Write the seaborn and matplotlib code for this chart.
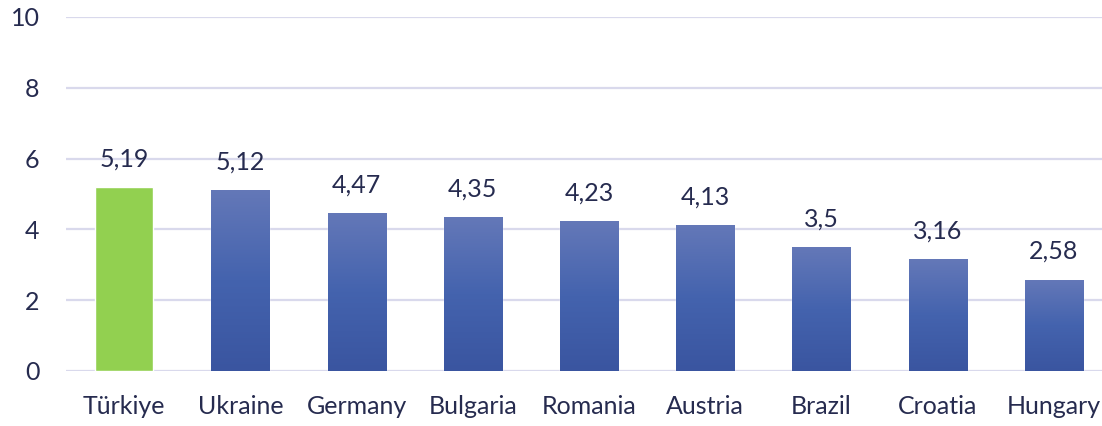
import matplotlib
matplotlib.use("Agg")
import matplotlib.pyplot as plt
import seaborn as sns
import numpy as np
from matplotlib.colors import LinearSegmentedColormap

countries = ["Türkiye", "Ukraine", "Germany", "Bulgaria", "Romania",
             "Austria", "Brazil", "Croatia", "Hungary"]
values = [5.19, 5.12, 4.47, 4.35, 4.23, 4.13, 3.5, 3.16, 2.58]
value_labels = ["5,19", "5,12", "4,47", "4,35", "4,23", "4,13", "3,5", "3,16", "2,58"]
highlight = "Türkiye"

text_color = "#262B4F"
grid_color = "#D9D9EC"

sns.set_style("white")
plt.rcParams['font.family'] = ['Lato', 'DejaVu Sans']

fig = plt.figure(figsize=(11.02, 4.26), dpi=100)
# axes in pixels: left 66, right 1112 (clipped by figure), bottom y=371, top y=17
W, H = 1102, 426
ax = fig.add_axes([66 / W, (H - 371) / H, (1112 - 66) / W, (371 - 17) / H])

palette = ["#92D050" if c == highlight else "#4463AE" for c in countries]
sns.barplot(x=countries, y=values, hue=countries, palette=palette,
            width=0.5, saturation=1, legend=False, ax=ax, zorder=3)

# vertical gradient on the blue bars
blue_grad = LinearSegmentedColormap.from_list("bg", ["#3A55A0", "#4463AE", "#6478B8"])
grad = np.linspace(0, 1, 256).reshape(-1, 1)
for patch, c in zip(ax.patches, countries):
    if c == highlight:
        continue
    x0, y0 = patch.get_x(), patch.get_y()
    w, h = patch.get_width(), patch.get_height()
    im = ax.imshow(grad, cmap=blue_grad, origin="lower", aspect="auto",
                   extent=(x0, x0 + w, y0, y0 + h), zorder=4)
    im.set_clip_path(patch)
    patch.set_facecolor("none")

for i, (v, lab) in enumerate(zip(values, value_labels)):
    ax.annotate(lab, (i, v), xytext=(0, 12), textcoords="offset points",
                ha="center", va="bottom", fontsize=18, color=text_color)

ax.set_xlim(-0.5, 8.5)
ax.set_ylim(0, 10)
ax.set_yticks(range(0, 11, 2))
ax.yaxis.grid(True, color=grid_color, linewidth=1.6, zorder=0)
ax.set_axisbelow(True)
ax.tick_params(axis="both", length=0, labelsize=18, colors=text_color)
ax.tick_params(axis="y", pad=19)
ax.tick_params(axis="x", pad=17)
ax.set(xlabel=None, ylabel=None)
sns.despine(ax=ax, left=True, bottom=True, top=True, right=True)

fig.savefig("out.png", dpi=100)
